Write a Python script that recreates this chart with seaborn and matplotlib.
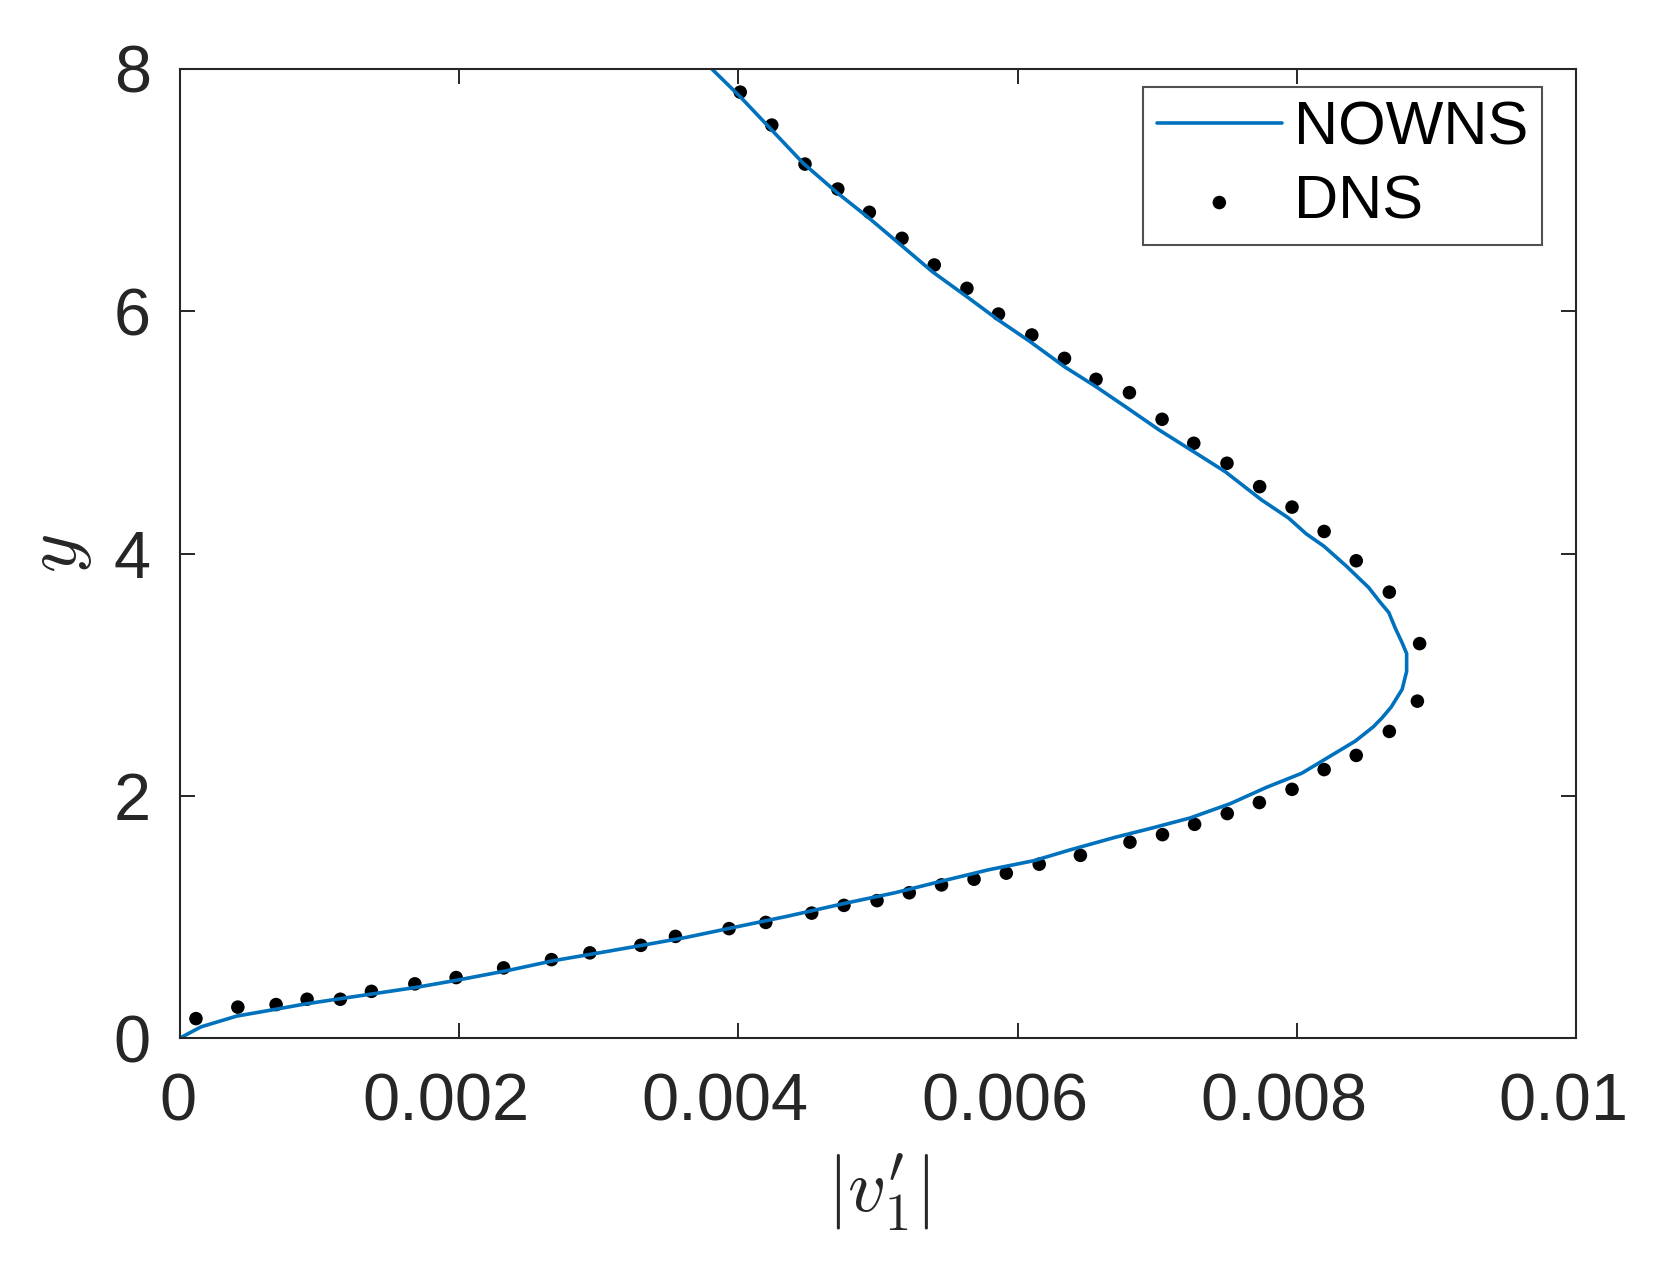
import matplotlib
matplotlib.use("Agg")
import matplotlib.pyplot as plt
import matplotlib.transforms as mtransforms
import seaborn as sns
import pandas as pd

# NOWNS profile
nowns_v = [0.0, 0.00015, 0.000406, 0.000699, 0.000881, 0.001138, 0.00143, 0.001686, 0.001978,
           0.002343, 0.002673, 0.003001, 0.003294, 0.003623, 0.003988, 0.004354, 0.004756,
           0.005121, 0.005477, 0.005797, 0.006117, 0.006373, 0.006693, 0.006948, 0.007237,
           0.007524, 0.00778, 0.008036, 0.008228, 0.00842, 0.008548, 0.008611, 0.008676,
           0.008755, 0.008787, 0.008787, 0.008755, 0.008707, 0.008659, 0.008595, 0.008515,
           0.008355, 0.008196, 0.008068, 0.00794, 0.007748, 0.007488, 0.007262, 0.007014,
           0.006789, 0.006562, 0.006336, 0.00609, 0.005863, 0.005637, 0.00539, 0.005164,
           0.004938, 0.004712, 0.004465, 0.004239, 0.004013, 0.00381]
nowns_y = [0.0, 0.092, 0.181, 0.240, 0.278, 0.323, 0.373, 0.417, 0.476,
           0.556, 0.638, 0.703, 0.762, 0.830, 0.918, 1.006, 1.110,
           1.199, 1.301, 1.390, 1.464, 1.552, 1.655, 1.729, 1.817,
           1.935, 2.068, 2.186, 2.319, 2.452, 2.569, 2.643, 2.732,
           2.879, 3.027, 3.174, 3.262, 3.380, 3.513, 3.601, 3.719,
           3.896, 4.059, 4.162, 4.294, 4.442, 4.675, 4.840, 5.020,
           5.199, 5.377, 5.542, 5.749, 5.927, 6.120, 6.326, 6.547,
           6.767, 6.974, 7.221, 7.496, 7.771, 8.0]

# DNS points
dns_v = [0.000114, 0.000414, 0.000688, 0.00091, 0.001148, 0.001371, 0.001682, 0.001978, 0.002318,
         0.002661, 0.002936, 0.003301, 0.003549, 0.003933, 0.004196, 0.004525, 0.004756, 0.004993,
         0.005224, 0.005455, 0.005688, 0.005919, 0.006155, 0.00645, 0.006805, 0.007038, 0.007268,
         0.007502, 0.007732, 0.007966, 0.008196, 0.008426, 0.008663, 0.008864, 0.00888, 0.008663,
         0.008426, 0.008196, 0.007966, 0.007734, 0.0075, 0.007262, 0.007035, 0.006801, 0.006562,
         0.006336, 0.006102, 0.005863, 0.005637, 0.005403, 0.005172, 0.004938, 0.004712, 0.004477,
         0.004239, 0.004013]
dns_y = [0.160, 0.255, 0.276, 0.320, 0.320, 0.385, 0.447, 0.499, 0.579,
         0.647, 0.703, 0.765, 0.839, 0.903, 0.954, 1.031, 1.095, 1.134,
         1.199, 1.264, 1.311, 1.361, 1.435, 1.508, 1.617, 1.679, 1.764,
         1.853, 1.944, 2.053, 2.216, 2.333, 2.531, 2.781, 3.256, 3.681,
         3.940, 4.182, 4.383, 4.552, 4.745, 4.910, 5.108, 5.328, 5.438,
         5.611, 5.804, 5.977, 6.189, 6.382, 6.602, 6.817, 7.009, 7.215,
         7.537, 7.809]

x_ticks = [0, 0.002, 0.004, 0.006, 0.008, 0.01]
x_labels = ["0", "0.002", "0.004", "0.006", "0.008", "0.01"]
y_ticks = [0, 2, 4, 6, 8]

sns.set_style("ticks")
plt.rcParams['font.family'] = ['Liberation Sans', 'DejaVu Sans']
plt.rcParams['mathtext.fontset'] = 'cm'

dark = '#262626'
nowns = pd.DataFrame({'v': nowns_v, 'y': nowns_y})
dns = pd.DataFrame({'v': dns_v, 'y': dns_y})

fig = plt.figure(figsize=(16.61, 12.73), dpi=100)
ax = fig.add_axes([0.1084, 0.1846, 0.8404, 0.7612])

sns.lineplot(data=nowns, x='v', y='y', orient='y', sort=False, color='#0072BD',
             linewidth=2.6, label='NOWNS', ax=ax)
sns.scatterplot(data=dns, x='v', y='y', color='black', s=95, edgecolor='none',
                label='DNS', ax=ax)

ax.set_xlim(0, 0.01)
ax.set_ylim(0, 8)
ax.set_xticks(x_ticks)
ax.set_xticklabels(x_labels)
ax.set_yticks(y_ticks)
ax.tick_params(direction='in', length=10.5, width=1.4, colors=dark, labelsize=48,
               top=True, right=True)
ax.tick_params(axis='x', pad=25)
ax.tick_params(axis='y', pad=21)
for sp in ax.spines.values():
    sp.set_color(dark)
    sp.set_linewidth(1.5)

# the reference's decimal labels sit a little left of their ticks
for lab in ax.get_xticklabels():
    shift = -0.025 if lab.get_text() == "0" else -0.13
    lab.set_transform(lab.get_transform() +
                      mtransforms.ScaledTranslation(shift, 0, fig.dpi_scale_trans))

ax.set_xlabel(r"$|v_1'|$", fontsize=54, color=dark, labelpad=12)
ax.set_ylabel(r"$y$", fontsize=54, color=dark, labelpad=14)

leg = ax.legend(loc='upper right', bbox_to_anchor=(0.9756, 0.9814), borderaxespad=0,
                fontsize=44, frameon=True, fancybox=False, handlelength=2.05,
                handletextpad=0.2, borderpad=0.22, labelspacing=0.28,
                labelcolor='black')
leg.get_frame().set_edgecolor(dark)
leg.get_frame().set_linewidth(1.5)

fig.savefig('out.png', dpi=100, facecolor='white')
